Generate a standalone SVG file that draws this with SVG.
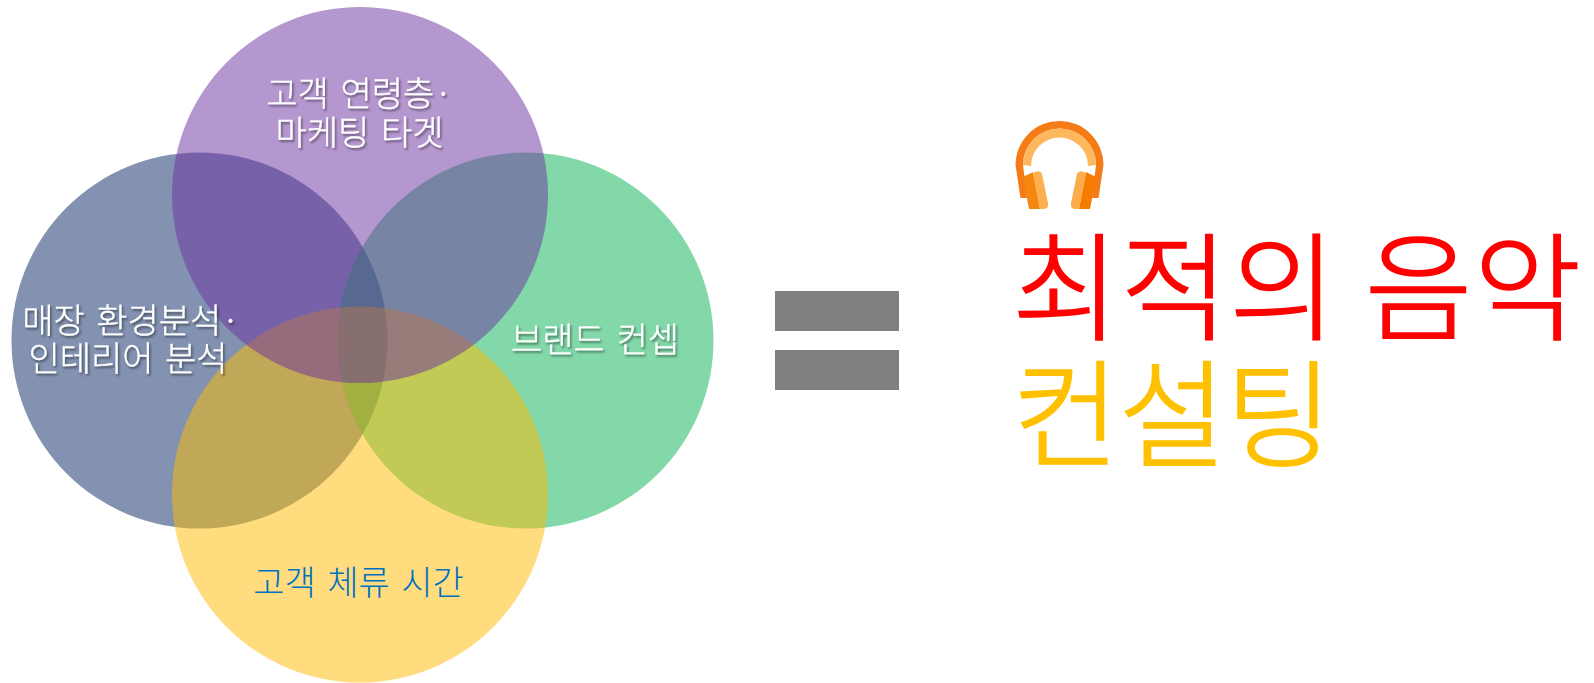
<svg xmlns="http://www.w3.org/2000/svg" width="1594" height="683" viewBox="0 0 1594 683">
<style>
text{font-family:"Noto Sans CJK KR","Noto Sans",sans-serif;text-anchor:middle;font-weight:300}
.c{fill-opacity:.5}
.w{fill:#fff;font-size:34px;word-spacing:4px;stroke:#fff;stroke-width:.3px;filter:url(#s)}
.big{font-size:117px;text-anchor:start;stroke-width:1.6px}
</style>
<defs><filter id="s" x="-10%" y="-20%" width="120%" height="150%"><feDropShadow dx="1.5" dy="2" stdDeviation="1.2" flood-color="#000" flood-opacity=".45"/></filter></defs>
<rect width="1594" height="683" fill="#fff"/>
<g id="node-left"><circle class="c" cx="199.500" cy="340.500" r="188" fill="#072561"/></g>
<g id="node-right"><circle class="c" cx="525.500" cy="340.500" r="188" fill="#05b153"/></g>
<g id="node-bottom"><circle class="c" cx="360" cy="494.500" r="188" fill="#ffbb00"/></g>
<g id="node-top"><circle class="c" cx="360" cy="195" r="188" fill="#6b2fa0"/></g>
<g id="labels">
<text class="w" x="359.500" y="106">고객 연령층·</text>
<text class="w" x="359.500" y="145">마케팅 타겟</text>
<text class="w" x="131" y="333">매장 환경분석·</text>
<text class="w" x="128" y="371">인테리어 분석</text>
<text class="w" x="595" y="351.500">브랜드 컨셉</text>
<text x="358.500" y="594.500" font-size="34" word-spacing="4" fill="#0070c0">고객 체류 시간</text>
</g>
<g id="equals" fill="#808080"><rect x="775" y="291" width="124" height="40"/><rect x="775" y="350" width="124" height="40"/></g>
<g id="headphones">
<path d="M1015.500 165A44 44 0 0 1 1103.500 165L1098.500 198L1092 198L1096 165A36.500 36.500 0 0 0 1023 165L1027 198L1020.500 198Z" fill="#f47b16"/>
<path d="M1023 165A36.500 36.500 0 0 1 1096 165L1088 166A28.500 28.500 0 0 0 1031 166Z" fill="#fdb75c"/>
<path d="M1023 177L1033 172L1040 209L1029 209Z" fill="#f5870f"/>
<path d="M1033 173Q1040 169 1042 174L1048 203Q1049 209 1043 209L1040 209Z" fill="#fdb04f"/>
<path d="M1096 177L1086 172L1079 209L1090 209Z" fill="#f57c00"/>
<path d="M1086 173Q1079 169 1077 174L1071 203Q1070 209 1076 209L1079 209Z" fill="#fdac4b"/>
</g>
<g id="title">
<text class="big" x="1012" y="330.500" fill="#ff0000" stroke="#ff0000" letter-spacing="1">최적의 음악</text>
<text class="big" x="1012" y="457.500" fill="#ffc000" stroke="#ffc000" letter-spacing="-1">컨설팅</text>
</g>
</svg>
